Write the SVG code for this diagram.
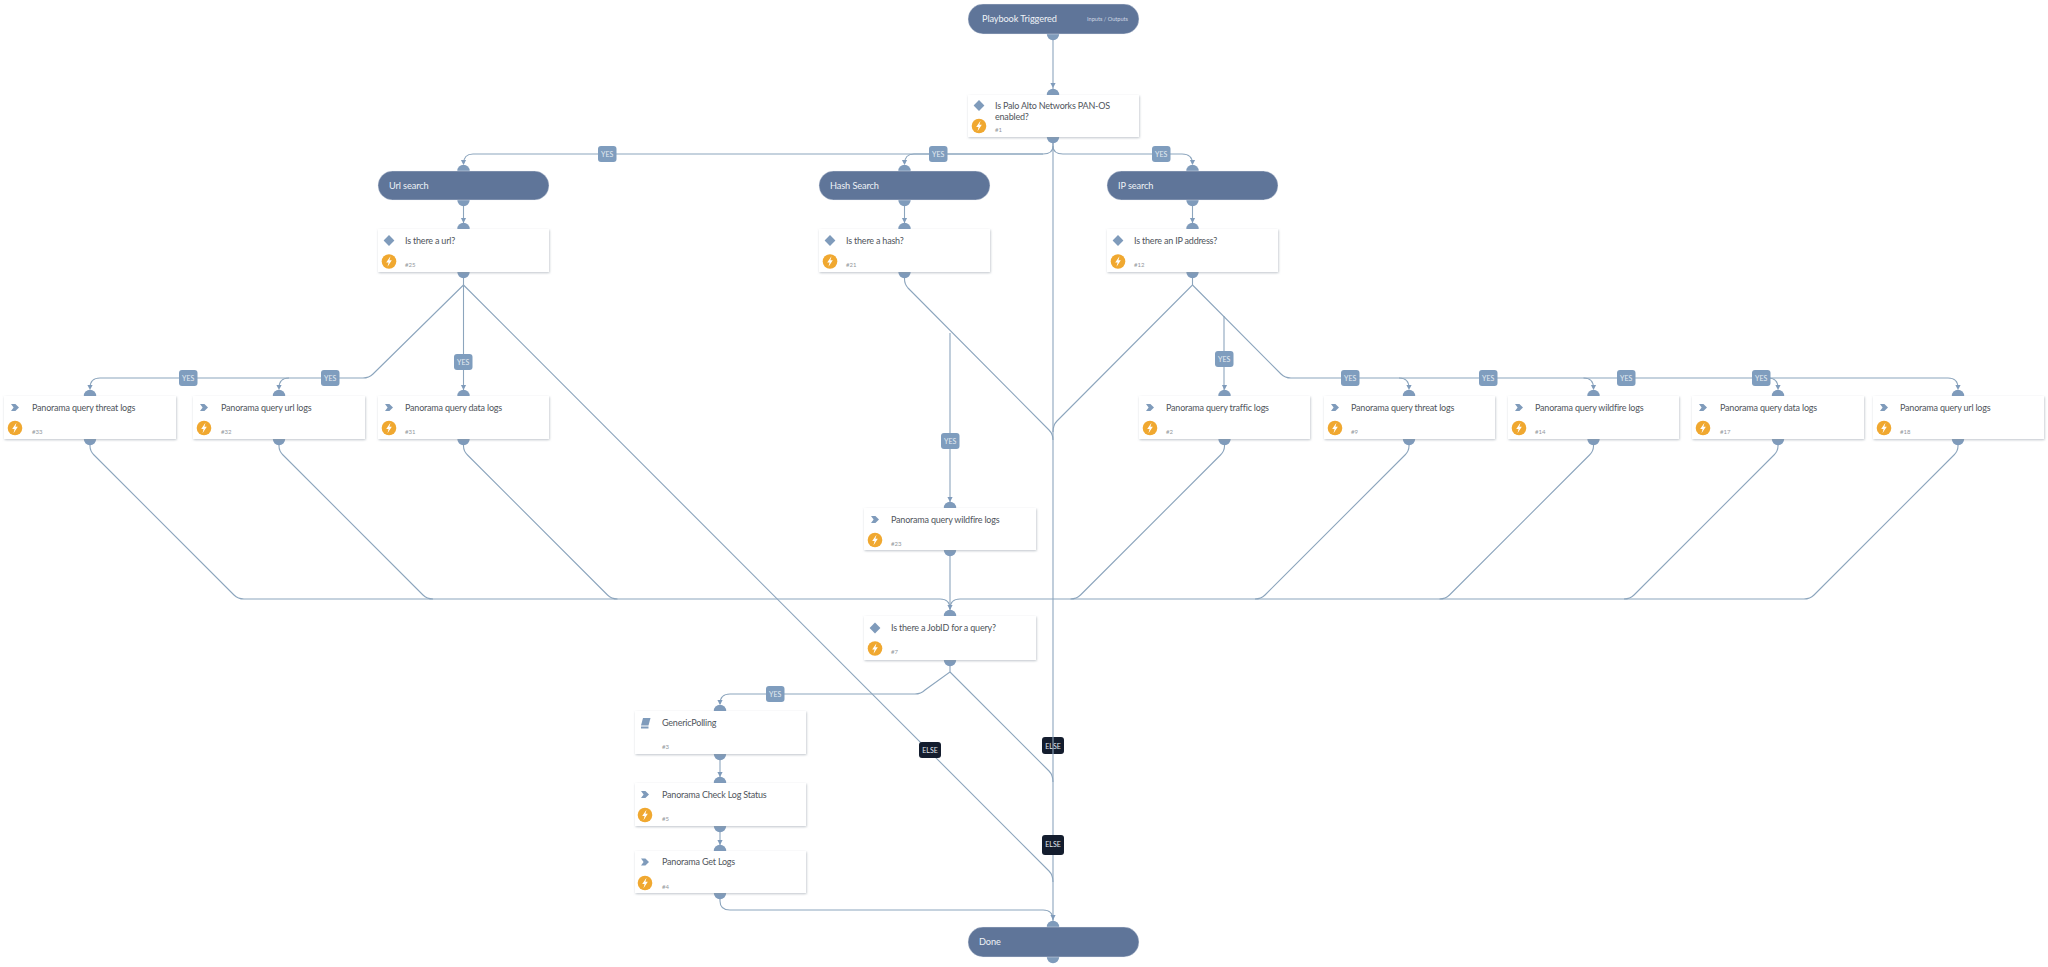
<svg xmlns="http://www.w3.org/2000/svg" width="2048" height="967" viewBox="0 0 2048 967">
<style>
.bg{fill:#ffffff}
.c{fill:none;stroke:#8ca5bd;stroke-width:1.1}
.b{fill:#7f9bbb}
.a{fill:#7f9bbb}
.card{fill:#ffffff;filter:url(#sh)}
.pill{fill:#5f7599;stroke:#eef1f5;stroke-width:.4}
.t{font-family:Lato,"Open Sans",sans-serif;font-size:9px;letter-spacing:-.2px;fill:#50555c}
.n{font-family:Lato,"Open Sans",sans-serif;font-size:6px;fill:#93979c}
.w{font-family:Lato,"Open Sans",sans-serif;font-size:9.2px;letter-spacing:-.1px;fill:#eef2f6}
.io{font-family:Lato,"Open Sans",sans-serif;font-size:5.6px;fill:#cfd8e4}
.ly{fill:#7f9dbe}
.le{fill:#141d2e}
.lt{font-family:Lato,"Open Sans",sans-serif;font-size:7px;fill:#e6ecf2;text-anchor:middle}
.bolt{fill:#f0a830}
.i{fill:#7f9bbb}
</style>
<defs>
<filter id="sh" x="-5%" y="-10%" width="110%" height="125%"><feDropShadow dx="0.6" dy="1" stdDeviation="1" flood-color="#8a94a0" flood-opacity=".55"/></filter>
<path id="ar" d="M-2.6,-5H2.6L0,0Z" class="a"/>
<g id="bt"><circle r="7.3" class="bolt"/><path d="M1.5,-5.2L-2.8,1H-0.4L-1.5,5.2L2.8,-1.2H0.4Z" fill="#fff"/></g>
<path id="dm" d="M0,-5.4L5.4,0L0,5.4L-5.4,0Z" class="i"/>
<path id="ch" d="M-4,-3.6H0.4L4,0L0.4,3.6H-4L-1.4,0Z" class="i"/>
</defs>
<rect class="bg" width="2048" height="967"/>
<g id="connectors">
<path class="c" d="M1053,34V922"/>
<path class="c" d="M1053,137V146Q1053,154 1043,154H473Q463.5,154 463.5,164"/>
<path class="c" d="M1043,154H914Q904.5,154 904.5,164"/>
<path class="c" d="M1053,146Q1053,154 1063,154H1182Q1192.5,154 1192.5,164"/>
<path class="c" d="M463.5,200V224"/>
<path class="c" d="M904.5,200V224"/>
<path class="c" d="M1192.5,200V224"/>
<path class="c" d="M463.5,272V391"/>
<path class="c" d="M463.5,285L373,374Q369,378 363,378H100Q90,378 90,388"/>
<path class="c" d="M289,378Q279,378 279,388"/>
<path class="c" d="M463.5,285L1049,871Q1053,875 1053,882"/>
<path class="c" d="M904.5,272V279Q904.5,284 908,288L1049,430Q1053,434 1053,440"/>
<path class="c" d="M950,333V503"/>
<path class="c" d="M1192.5,272V285L1057,421Q1053,425 1053,432"/>
<path class="c" d="M1192.5,285L1281,374Q1285,378 1291,378H1948Q1958,378 1958,388"/>
<path class="c" d="M1224,316V391"/>
<path class="c" d="M1399,378Q1409,378 1409,388"/>
<path class="c" d="M1583.5,378Q1593.5,378 1593.5,388"/>
<path class="c" d="M1768,378Q1778,378 1778,388"/>
<path class="c" d="M90,439V446Q90,451 94,455L234,595Q238,599 244,599H940Q950,599 950,609"/>
<path class="c" d="M279,439V446Q279,451 283,455L423,595Q427,599 433,599"/>
<path class="c" d="M463.5,439V446Q463.5,451 467.5,455L607.5,595Q611.5,599 617.5,599"/>
<path class="c" d="M1224.5,439V446Q1224.5,451 1220.5,455L1080.5,595Q1076.5,599 1070.5,599"/>
<path class="c" d="M1409,439V446Q1409,451 1405,455L1265,595Q1261,599 1255,599"/>
<path class="c" d="M1593.5,439V446Q1593.5,451 1589.5,455L1449.5,595Q1445.5,599 1439.5,599"/>
<path class="c" d="M1778,439V446Q1778,451 1774,455L1634,595Q1630,599 1624,599"/>
<path class="c" d="M1958,439V446Q1958,451 1954,455L1814,595Q1810,599 1804,599H960Q950,599 950,609"/>
<path class="c" d="M950,550V611"/>
<path class="c" d="M950,660V672L925,690Q921,694 915,694H730Q720,694 720,704"/>
<path class="c" d="M950,672L1049,771Q1053,775 1053,782"/>
<path class="c" d="M720,754V778"/>
<path class="c" d="M720,826V846"/>
<path class="c" d="M720,893V901Q720,910 730,910H1043Q1053,910 1053,920"/>
<use href="#ar" x="1053" y="88"/>
<use href="#ar" x="463.5" y="165"/><use href="#ar" x="904.5" y="165"/><use href="#ar" x="1192.5" y="165"/>
<use href="#ar" x="463.5" y="223"/><use href="#ar" x="904.5" y="223"/><use href="#ar" x="1192.5" y="223"/>
<use href="#ar" x="90" y="390"/><use href="#ar" x="279" y="390"/><use href="#ar" x="463.5" y="390"/><use href="#ar" x="1224.5" y="390"/><use href="#ar" x="1409" y="390"/><use href="#ar" x="1593.5" y="390"/><use href="#ar" x="1778" y="390"/><use href="#ar" x="1958" y="390"/>
<use href="#ar" x="950" y="502"/><use href="#ar" x="950" y="610"/>
<use href="#ar" x="720" y="705"/><use href="#ar" x="720" y="777"/><use href="#ar" x="720" y="845"/>
<use href="#ar" x="1053" y="920"/>
</g>
<g id="edge-labels">
<g id="l1"><rect class="ly" x="598" y="146" width="18.5" height="16" rx="3"/><text class="lt" x="607.2" y="156.5">YES</text></g>
<g id="l2"><rect class="ly" x="929" y="146" width="18.5" height="16" rx="3"/><text class="lt" x="938.2" y="156.5">YES</text></g>
<g id="l3"><rect class="ly" x="1152" y="146" width="18.5" height="16" rx="3"/><text class="lt" x="1161.2" y="156.5">YES</text></g>
<g id="l4"><rect class="ly" x="179" y="370" width="18.5" height="16" rx="3"/><text class="lt" x="188.2" y="380.5">YES</text></g>
<g id="l5"><rect class="ly" x="321" y="370" width="18.5" height="16" rx="3"/><text class="lt" x="330.2" y="380.5">YES</text></g>
<g id="l6"><rect class="ly" x="454" y="354" width="18.5" height="16" rx="3"/><text class="lt" x="463.2" y="364.5">YES</text></g>
<g id="l7"><rect class="ly" x="1215" y="351" width="18.5" height="16" rx="3"/><text class="lt" x="1224.2" y="361.5">YES</text></g>
<g id="l8"><rect class="ly" x="1341" y="370" width="18.5" height="16" rx="3"/><text class="lt" x="1350.2" y="380.5">YES</text></g>
<g id="l9"><rect class="ly" x="1479" y="370" width="18.5" height="16" rx="3"/><text class="lt" x="1488.2" y="380.5">YES</text></g>
<g id="l10"><rect class="ly" x="1617" y="370" width="18.5" height="16" rx="3"/><text class="lt" x="1626.2" y="380.5">YES</text></g>
<g id="l11"><rect class="ly" x="1752" y="370" width="18.5" height="16" rx="3"/><text class="lt" x="1761.2" y="380.5">YES</text></g>
<g id="l12"><rect class="ly" x="941" y="433" width="18.5" height="16" rx="3"/><text class="lt" x="950.2" y="443.5">YES</text></g>
<g id="l13"><rect class="ly" x="766" y="686" width="18.5" height="16" rx="3"/><text class="lt" x="775.2" y="696.5">YES</text></g>
<g id="l14"><rect class="le" x="919" y="742" width="22" height="16" rx="3"/><text class="lt" x="930" y="752.5">ELSE</text></g>
<g id="l15"><rect class="le" x="1042" y="737" width="22" height="17" rx="3"/><text class="lt" x="1053" y="748.5">ELSE</text><path class="c" d="M1053,737V754"/></g>
<g id="l16"><rect class="le" x="1042" y="835" width="22" height="20" rx="3"/><text class="lt" x="1053" y="846.5">ELSE</text></g>
</g>
<g id="trigger"><circle class="b" cx="1053" cy="34" r="6.2"/><rect class="pill" x="968" y="4" width="171" height="30" rx="15"/><text class="w" x="982" y="22">Playbook Triggered</text><text class="io" x="1087" y="21">Inputs / Outputs</text></g>
<g id="n1"><circle class="b" cx="1053" cy="95" r="6.2"/><circle class="b" cx="1053" cy="137" r="6.2"/><rect class="card" x="968" y="95" width="171" height="42"/><use href="#dm" x="979" y="105.5"/><use href="#bt" x="979" y="126"/><text class="t" x="995" y="108.5">Is Palo Alto Networks PAN-OS</text><text class="t" x="995" y="119.5">enabled?</text><text class="n" x="995" y="132">#1</text></g>
<g id="url-search"><circle class="b" cx="463.5" cy="171" r="6.2"/><circle class="b" cx="463.5" cy="200" r="6.2"/><rect class="pill" x="378" y="171" width="171" height="29" rx="14.5"/><text class="w" x="389" y="189">Url search</text></g>
<g id="hash-search"><circle class="b" cx="904.5" cy="171" r="6.2"/><circle class="b" cx="904.5" cy="200" r="6.2"/><rect class="pill" x="819" y="171" width="171" height="29" rx="14.5"/><text class="w" x="830" y="189">Hash Search</text></g>
<g id="ip-search"><circle class="b" cx="1192.5" cy="171" r="6.2"/><circle class="b" cx="1192.5" cy="200" r="6.2"/><rect class="pill" x="1107" y="171" width="171" height="29" rx="14.5"/><text class="w" x="1118" y="189">IP search</text></g>
<g id="n25"><circle class="b" cx="463.5" cy="229" r="6.2"/><circle class="b" cx="463.5" cy="272" r="6.2"/><rect class="card" x="378" y="229" width="171" height="43"/><use href="#dm" x="389" y="240.5"/><use href="#bt" x="389" y="261.5"/><text class="t" x="405" y="243.5">Is there a url?</text><text class="n" x="405" y="267">#25</text></g>
<g id="n21"><circle class="b" cx="904.5" cy="229" r="6.2"/><circle class="b" cx="904.5" cy="272" r="6.2"/><rect class="card" x="819" y="229" width="171" height="43"/><use href="#dm" x="830" y="240.5"/><use href="#bt" x="830" y="261.5"/><text class="t" x="846" y="243.5">Is there a hash?</text><text class="n" x="846" y="267">#21</text></g>
<g id="n12"><circle class="b" cx="1192.5" cy="229" r="6.2"/><circle class="b" cx="1192.5" cy="272" r="6.2"/><rect class="card" x="1107" y="229" width="171" height="43"/><use href="#dm" x="1118" y="240.5"/><use href="#bt" x="1118" y="261.5"/><text class="t" x="1134" y="243.5">Is there an IP address?</text><text class="n" x="1134" y="267">#12</text></g>
<g id="n33"><circle class="b" cx="90" cy="396" r="6.2"/><circle class="b" cx="90" cy="439" r="6.2"/><rect class="card" x="4" y="396" width="172" height="43"/><use href="#ch" x="15" y="407.5"/><use href="#bt" x="15" y="428"/><text class="t" x="32" y="410.5">Panorama query threat logs</text><text class="n" x="32" y="434">#33</text></g>
<g id="n32"><circle class="b" cx="279" cy="396" r="6.2"/><circle class="b" cx="279" cy="439" r="6.2"/><rect class="card" x="193" y="396" width="172" height="43"/><use href="#ch" x="204" y="407.5"/><use href="#bt" x="204" y="428"/><text class="t" x="221" y="410.5">Panorama query url logs</text><text class="n" x="221" y="434">#32</text></g>
<g id="n31"><circle class="b" cx="463.5" cy="396" r="6.2"/><circle class="b" cx="463.5" cy="439" r="6.2"/><rect class="card" x="378" y="396" width="171" height="43"/><use href="#ch" x="389" y="407.5"/><use href="#bt" x="389" y="428"/><text class="t" x="405" y="410.5">Panorama query data logs</text><text class="n" x="405" y="434">#31</text></g>
<g id="n2"><circle class="b" cx="1224.5" cy="396" r="6.2"/><circle class="b" cx="1224.5" cy="439" r="6.2"/><rect class="card" x="1139" y="396" width="171" height="43"/><use href="#ch" x="1150" y="407.5"/><use href="#bt" x="1150" y="428"/><text class="t" x="1166" y="410.5">Panorama query traffic logs</text><text class="n" x="1166" y="434">#2</text></g>
<g id="n9"><circle class="b" cx="1409" cy="396" r="6.2"/><circle class="b" cx="1409" cy="439" r="6.2"/><rect class="card" x="1324" y="396" width="171" height="43"/><use href="#ch" x="1335" y="407.5"/><use href="#bt" x="1335" y="428"/><text class="t" x="1351" y="410.5">Panorama query threat logs</text><text class="n" x="1351" y="434">#9</text></g>
<g id="n14"><circle class="b" cx="1593.5" cy="396" r="6.2"/><circle class="b" cx="1593.5" cy="439" r="6.2"/><rect class="card" x="1508" y="396" width="171" height="43"/><use href="#ch" x="1519" y="407.5"/><use href="#bt" x="1519" y="428"/><text class="t" x="1535" y="410.5">Panorama query wildfire logs</text><text class="n" x="1535" y="434">#14</text></g>
<g id="n17"><circle class="b" cx="1778" cy="396" r="6.2"/><circle class="b" cx="1778" cy="439" r="6.2"/><rect class="card" x="1692" y="396" width="172" height="43"/><use href="#ch" x="1703" y="407.5"/><use href="#bt" x="1703" y="428"/><text class="t" x="1720" y="410.5">Panorama query data logs</text><text class="n" x="1720" y="434">#17</text></g>
<g id="n18"><circle class="b" cx="1958" cy="396" r="6.2"/><circle class="b" cx="1958" cy="439" r="6.2"/><rect class="card" x="1873" y="396" width="171" height="43"/><use href="#ch" x="1884" y="407.5"/><use href="#bt" x="1884" y="428"/><text class="t" x="1900" y="410.5">Panorama query url logs</text><text class="n" x="1900" y="434">#18</text></g>
<g id="n23"><circle class="b" cx="950" cy="508" r="6.2"/><circle class="b" cx="950" cy="550" r="6.2"/><rect class="card" x="864" y="508" width="172" height="42"/><use href="#ch" x="875" y="519.5"/><use href="#bt" x="875" y="540"/><text class="t" x="891" y="522.5">Panorama query wildfire logs</text><text class="n" x="891" y="546">#23</text></g>
<g id="n7"><circle class="b" cx="950" cy="616" r="6.2"/><circle class="b" cx="950" cy="660" r="6.2"/><rect class="card" x="864" y="616" width="172" height="44"/><use href="#dm" x="875" y="628"/><use href="#bt" x="875" y="648.5"/><text class="t" x="891" y="630.5">Is there a JobID for a query?</text><text class="n" x="891" y="654">#7</text></g>
<g id="n3"><circle class="b" cx="720" cy="711" r="6.2"/><circle class="b" cx="720" cy="754" r="6.2"/><rect class="card" x="635" y="711" width="171" height="43"/><path class="i" d="M643,718H650.5L648.5,725.5H641Z"/><path class="i" d="M641,726.5H648.5V728.5H641Z"/><text class="t" x="662" y="725.5">GenericPolling</text><text class="n" x="662" y="749">#3</text></g>
<g id="n5"><circle class="b" cx="720" cy="783" r="6.2"/><circle class="b" cx="720" cy="826" r="6.2"/><rect class="card" x="635" y="783" width="171" height="43"/><use href="#ch" x="645" y="794.5"/><use href="#bt" x="645" y="815"/><text class="t" x="662" y="797.5">Panorama Check Log Status</text><text class="n" x="662" y="821">#5</text></g>
<g id="n4"><circle class="b" cx="720" cy="851" r="6.2"/><circle class="b" cx="720" cy="893" r="6.2"/><rect class="card" x="635" y="851" width="171" height="42"/><use href="#ch" x="645" y="862"/><use href="#bt" x="645" y="883"/><text class="t" x="662" y="865">Panorama Get Logs</text><text class="n" x="662" y="888.5">#4</text></g>
<g id="done"><circle class="b" cx="1053" cy="927" r="6.2"/><circle class="b" cx="1053" cy="957" r="6.2"/><rect class="pill" x="968" y="927" width="171" height="30" rx="15"/><text class="w" x="979" y="945">Done</text></g>
</svg>
